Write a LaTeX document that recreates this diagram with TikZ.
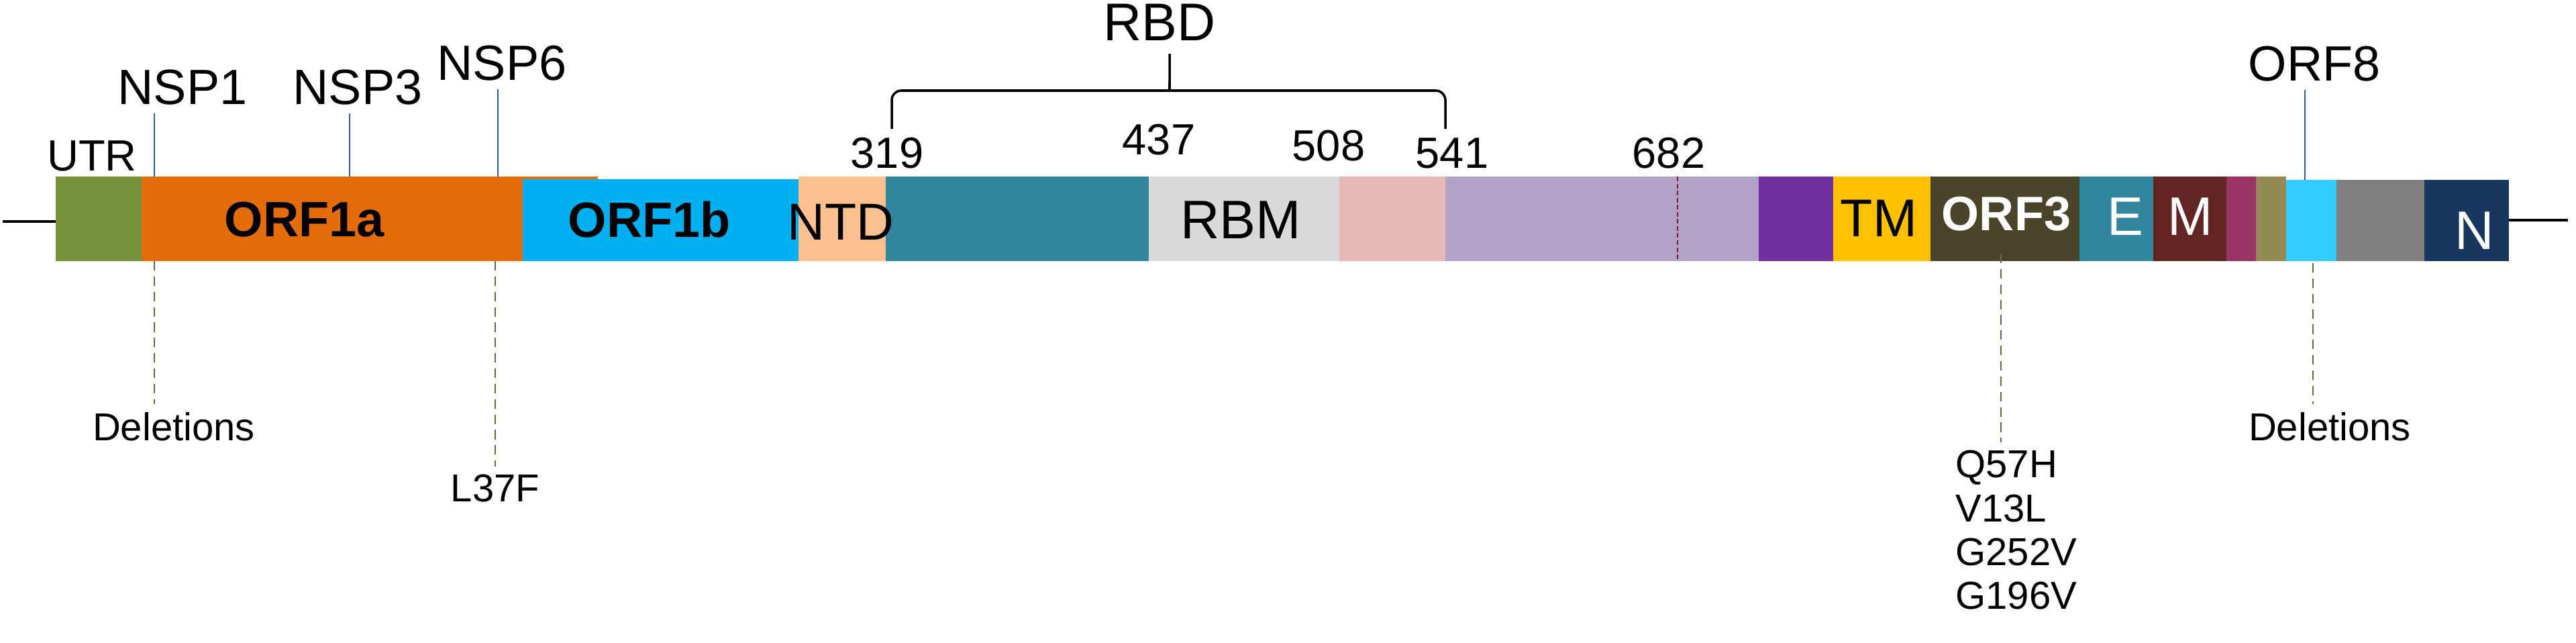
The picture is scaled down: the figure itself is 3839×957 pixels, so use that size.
\documentclass[tikz,border=0pt]{standalone}
\usepackage{fontspec}
\setmainfont{Liberation Sans}
\usepackage{xcolor}
\usetikzlibrary{positioning}

\definecolor{utrgreen}{HTML}{77933C}
\definecolor{orfaorange}{HTML}{E46C0A}
\definecolor{orfbblue}{HTML}{00B0F0}
\definecolor{ntdpeach}{HTML}{FAC090}
\definecolor{rbdteal}{HTML}{31859C}
\definecolor{rbmgrey}{HTML}{D9D9D9}
\definecolor{rbdpink}{HTML}{E6B9B8}
\definecolor{slavender}{HTML}{B3A2C7}
\definecolor{spurple}{HTML}{7030A0}
\definecolor{tmyellow}{HTML}{FFC000}
\definecolor{orfthree}{HTML}{4A452A}
\definecolor{mmaroon}{HTML}{632523}
\definecolor{sixmagenta}{HTML}{993366}
\definecolor{sevenkhaki}{HTML}{948A54}
\definecolor{eightcyan}{HTML}{33CCFF}
\definecolor{ninegrey}{HTML}{7F7F7F}
\definecolor{nnavy}{HTML}{17375E}
\definecolor{nspblue}{HTML}{2E5A9E}
\definecolor{mutbrown}{HTML}{6F6436}
\definecolor{cleavered}{HTML}{7F1F2F}

\tikzset{
  seg/.style={anchor=north west, inner sep=0pt, outer sep=0pt, minimum height=1.26cm},
  nspline/.style={draw=nspblue, line width=0.6pt},
  mutline/.style={draw=mutbrown, line width=0.6pt, dash pattern=on 4pt off 2.5pt},
  biglab/.style={font=\fontsize{21}{24}\selectfont},
  boldlab/.style={font=\fontsize{21}{24}\selectfont\bfseries},
  seglab/.style={font=\fontsize{23}{26}\selectfont},
  numlab/.style={font=\fontsize{18.5}{22}\selectfont},
  smalllab/.style={font=\fontsize{16.5}{18.5}\selectfont},
}

\begin{document}
\begin{tikzpicture}[x=0.01cm, y=-0.01cm]
  \useasboundingbox (0,0) rectangle (3839,957);
  % genome bar
  \fill[orfaorange] (779,263) rectangle (891,267);
  \node[seg, fill=utrgreen, minimum width=1.28cm] (utr) at (83,263) {};
  \node[seg, fill=orfaorange, minimum width=5.68cm] (orfa) at (211,263) {};
  \node[seg, fill=orfbblue, minimum width=4.11cm, minimum height=1.22cm] (orfb) at (779,267) {};
  \node[seg, fill=ntdpeach, minimum width=1.30cm] (ntd) at (1190,263) {};
  \node[seg, fill=rbdteal, minimum width=3.92cm] (rbdcore) at (1320,263) {};
  \node[seg, fill=rbmgrey, minimum width=2.84cm] (rbm) at (1712,263) {};
  \node[seg, fill=rbdpink, minimum width=1.58cm] (rbdtail) at (1996,263) {};
  \node[seg, fill=slavender, minimum width=4.67cm] (sdtwo) at (2154,263) {};
  \node[seg, fill=spurple, minimum width=1.11cm] (fusion) at (2621,263) {};
  \node[seg, fill=tmyellow, minimum width=1.45cm] (tm) at (2732,263) {};
  \node[seg, fill=orfthree, minimum width=2.22cm] (orf3) at (2877,263) {};
  \node[seg, fill=rbdteal, minimum width=1.10cm] (segE) at (3099,263) {};
  \node[seg, fill=mmaroon, minimum width=1.09cm] (segM) at (3209,263) {};
  \node[seg, fill=sixmagenta, minimum width=0.44cm] (orf6) at (3318,263) {};
  \node[seg, fill=sevenkhaki, minimum width=0.45cm] (orf7) at (3362,263) {};
  \node[seg, fill=eightcyan, minimum width=0.75cm, minimum height=1.21cm] (orf8) at (3407,268) {};
  \node[seg, fill=ninegrey, minimum width=1.31cm, minimum height=1.21cm] (orf9) at (3482,268) {};
  \node[seg, fill=nnavy, minimum width=1.26cm, minimum height=1.21cm] (segN) at (3613,268) {};
  \draw[cleavered, line width=0.6pt, dash pattern=on 2pt off 1pt]
    ([xshift=3.46cm]sdtwo.north west) -- ([xshift=3.46cm]sdtwo.south west);

  % ends of the genome
  \coordinate (fiveend) at (4,330);
  \coordinate (threeend) at (3827,328);
  \draw[line width=1pt] (fiveend) -- (fiveend -| utr.west);
  \draw[line width=1pt] (segN.east |- threeend) -- (threeend);

  % names inside the bar
  \node[boldlab] at (454,327) {ORF1a};
  \node[boldlab] at (968,327) {ORF1b};
  \node[font=\fontsize{22}{24}\selectfont] at (1253,331) {NTD};
  \node[seglab] at (1849,328) {RBM};
  \node[font=\fontsize{22.5}{24}\selectfont] at (2800,325) {TM};
  \node[font=\fontsize{20.5}{24}\selectfont\bfseries, text=white] at (2990,319) {ORF3};
  \node[seglab, text=white] at (3167,323) {E};
  \node[seglab, text=white] at (3264,323) {M};
  \node[seglab, text=white] at (3688,344) {N};

  % labels above
  \node[numlab] (utrlab) at (137,232) {UTR};
  \node[biglab] (nsp1) at (272,130) {NSP1};
  \node[biglab] (nsp3) at (533,130) {NSP3};
  \node[biglab] (nsp6) at (748,94) {NSP6};
  \node[biglab] (orf8lab) at (3449,95) {ORF8};
  \coordinate (cut1) at (230,263);
  \coordinate (cut3) at (521,263);
  \coordinate (cut6) at (742,263);
  \coordinate (cut8) at (3435,268);
  \draw[nspline] (cut1 |- nsp1.south) -- (cut1);
  \draw[nspline] (cut3 |- nsp3.south) -- (cut3);
  \draw[nspline] (cut6 |- nsp6.south) -- (cut6);
  \draw[nspline] (cut8 |- orf8lab.south) -- (cut8);

  % spike positions
  \node[numlab] (n319) at (1322,228) {319};
  \node[numlab] (n437) at (1727,208) {437};
  \node[numlab] (n508) at (1980,217) {508};
  \node[numlab] (n541) at (2164,228) {541};
  \node[numlab] (n682) at (2487,228) {682};
  \node[font=\fontsize{22.5}{26}\selectfont] (rbdlab) at (1728,33) {RBD};
  \draw[line width=1pt, rounded corners=4pt]
    (1329,192) -- (1329,135) -- (1733,135) .. controls (1743,135) .. (1743,120) -- (1743,80);
  \draw[line width=1pt, rounded corners=4pt]
    (1743,120) .. controls (1743,135) .. (1753,135) -- (2154,135) -- (2154,192);

  % mutations below
  \node[smalllab] (del1) at (259,636) {Deletions};
  \node[smalllab] (l37f) at (738,728) {L37F};
  \node[smalllab, anchor=north west, align=left] (muts) at (2902,659) {Q57H\\V13L\\G252V\\G196V};
  \node[smalllab] (del8) at (3472,636) {Deletions};
  \coordinate (mut1) at (230,389);
  \coordinate (mut6) at (738,389);
  \coordinate (mut3) at (2982,378);
  \coordinate (mut8) at (3447,392);
  \draw[mutline] (mut1) -- (mut1 |- del1.north);
  \draw[mutline] (mut6) -- (mut6 |- l37f.north);
  \draw[mutline] (mut3) -- (mut3 |- muts.north);
  \draw[mutline] (mut8) -- (mut8 |- del8.north);
\end{tikzpicture}
\end{document}
